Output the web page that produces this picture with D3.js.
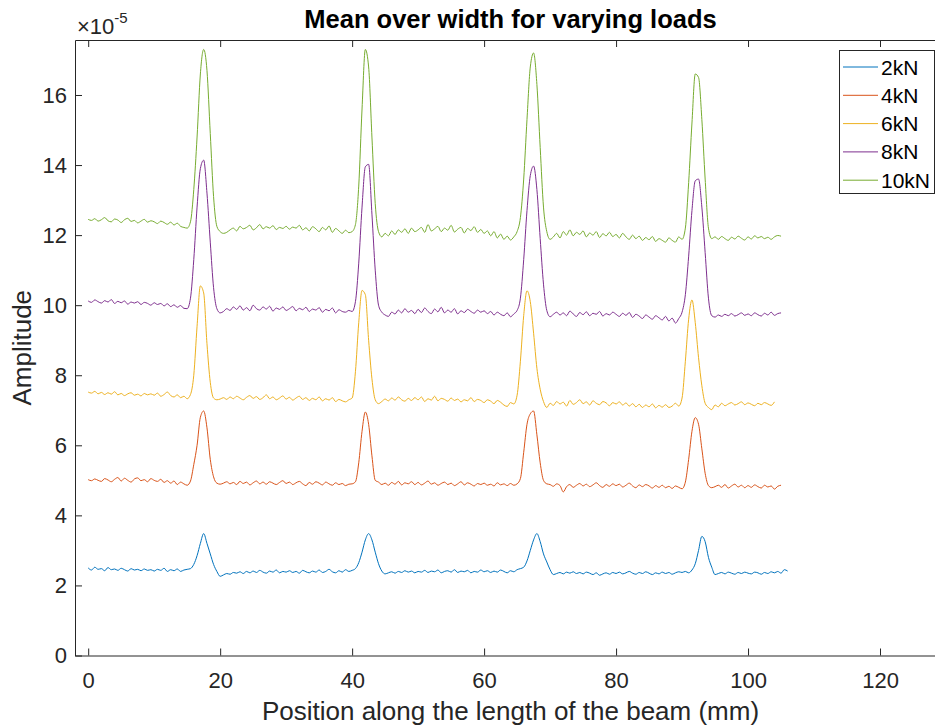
<!DOCTYPE html>
<html>
<head>
<meta charset="utf-8">
<script src="https://cdn.jsdelivr.net/npm/d3@7"></script>
<style>
  body { margin: 0; background: #fff; }
  svg { display: block; font-family: "Liberation Sans", Arial, Helvetica, sans-serif; }
</style>
</head>
<body>
<svg width="935" height="727"></svg>
<script>
// Data (amplitude in units of 1e-5, sampled every 0.5 mm from x = 0)
const xStep = 0.5;
const names = ["2kN", "4kN", "6kN", "8kN", "10kN"];
const colors = ["#0072BD", "#D95319", "#EDB120", "#7E2F8E", "#77AC30"];
const xTicks = [0, 20, 40, 60, 80, 100, 120];
const yTicks = [0, 2, 4, 6, 8, 10, 12, 14, 16];

const load2kN = [
  2.50,2.44,2.52,2.46,2.48,2.42,2.51,2.45,2.47,2.43,2.49,2.45,2.41,2.48,2.44,2.46,2.42,2.47,2.43,2.45,
  2.41,2.46,2.43,2.49,2.40,2.45,2.42,2.47,2.40,2.44,2.46,2.48,2.6,2.85,3.2,3.48,3.2,2.9,2.6,2.4,
  2.26,2.30,2.34,2.32,2.37,2.35,2.39,2.34,2.40,2.36,2.41,2.37,2.43,2.38,2.35,2.41,2.38,2.44,2.36,2.40,
  2.38,2.42,2.37,2.40,2.35,2.43,2.39,2.36,2.41,2.38,2.44,2.37,2.40,2.46,2.39,2.36,2.42,2.38,2.45,2.40,
  2.43,2.48,2.65,2.95,3.3,3.48,3.3,2.95,2.62,2.41,2.33,2.36,2.39,2.35,2.40,2.37,2.42,2.38,2.41,2.36,
  2.40,2.38,2.43,2.37,2.41,2.39,2.44,2.36,2.40,2.42,2.38,2.45,2.37,2.41,2.39,2.43,2.36,2.40,2.38,2.44,
  2.39,2.42,2.37,2.41,2.38,2.44,2.40,2.36,2.42,2.39,2.45,2.48,2.52,2.7,3.0,3.3,3.48,3.25,2.9,2.67,
  2.45,2.31,2.34,2.37,2.33,2.38,2.35,2.39,2.34,2.37,2.33,2.38,2.35,2.31,2.36,2.29,2.33,2.36,2.32,2.37,
  2.34,2.38,2.33,2.36,2.40,2.35,2.32,2.37,2.34,2.39,2.35,2.31,2.36,2.33,2.38,2.34,2.37,2.32,2.36,2.39,
  2.37,2.40,2.36,2.44,2.62,3.0,3.4,3.25,2.8,2.52,2.31,2.34,2.37,2.33,2.38,2.35,2.32,2.37,2.34,2.38,
  2.35,2.33,2.38,2.36,2.32,2.37,2.34,2.39,2.36,2.40,2.35,2.45,2.41
];
const load4kN = [
  5.02,4.99,5.04,5.00,4.97,5.05,5.01,4.96,5.03,5.08,4.98,5.06,5.00,4.95,5.04,5.07,4.99,5.02,4.96,5.05,
  5.00,4.97,5.03,4.94,4.99,4.92,4.98,4.88,4.95,4.90,4.86,4.98,5.45,6.0,6.8,6.98,6.5,5.6,5.1,4.92,
  4.89,4.92,4.96,4.90,4.94,4.88,4.97,4.91,4.95,4.87,4.93,4.98,4.90,4.95,4.89,4.96,4.92,4.88,4.94,4.99,
  4.91,4.95,4.88,4.93,4.97,4.90,4.85,4.94,4.89,4.96,4.92,4.87,4.95,4.90,4.86,4.93,4.88,4.91,4.85,4.89,
  4.90,4.96,5.5,6.4,6.95,6.6,5.7,5.0,4.95,4.88,4.92,4.86,4.94,4.89,4.97,4.87,4.93,4.90,4.96,4.88,
  4.94,4.87,4.92,4.98,4.89,4.93,4.86,4.91,4.95,4.88,4.92,4.85,4.90,4.96,4.87,4.93,4.89,4.84,4.91,4.88,
  4.92,4.86,4.89,4.84,4.93,4.87,4.90,4.85,4.91,4.86,4.90,5.05,5.8,6.6,6.9,6.98,6.3,5.5,5.0,4.9,
  4.88,4.83,4.90,4.85,4.67,4.82,4.88,4.80,4.86,4.91,4.84,4.89,4.82,4.87,4.93,4.85,4.80,4.88,4.83,4.90,
  4.85,4.89,4.81,4.86,4.92,4.84,4.79,4.87,4.82,4.88,4.84,4.78,4.85,4.80,4.86,4.79,4.83,4.77,4.84,4.80,
  4.76,4.95,5.6,6.4,6.79,6.6,5.9,5.2,4.85,4.79,4.82,4.86,4.80,4.88,4.78,4.84,4.89,4.81,4.86,4.79,
  4.85,4.80,4.87,4.82,4.78,4.86,4.81,4.84,4.75,4.83,4.86
];
const load6kN = [
  7.52,7.49,7.54,7.47,7.51,7.45,7.50,7.46,7.53,7.44,7.48,7.42,7.47,7.50,7.43,7.46,7.41,7.48,7.44,7.47,
  7.43,7.49,7.40,7.45,7.52,7.42,7.38,7.44,7.36,7.40,7.33,7.45,8.0,9.4,10.55,10.35,8.9,7.8,7.35,7.30,
  7.32,7.36,7.31,7.38,7.33,7.40,7.35,7.30,7.37,7.42,7.34,7.39,7.31,7.36,7.44,7.33,7.38,7.30,7.35,7.41,
  7.32,7.37,7.29,7.35,7.40,7.31,7.36,7.28,7.34,7.30,7.38,7.27,7.33,7.29,7.36,7.25,7.31,7.27,7.24,7.30,
  7.35,8.1,9.5,10.42,10.3,9.0,7.9,7.3,7.19,7.25,7.32,7.27,7.35,7.29,7.38,7.30,7.26,7.34,7.28,7.36,
  7.30,7.38,7.25,7.33,7.29,7.40,7.27,7.34,7.31,7.26,7.35,7.28,7.32,7.24,7.30,7.27,7.36,7.25,7.31,7.28,
  7.22,7.30,7.26,7.19,7.28,7.23,7.15,7.11,7.22,7.18,7.43,8.4,9.7,10.41,10.1,9.2,8.2,7.6,7.25,7.08,
  7.20,7.14,7.25,7.18,7.23,7.12,7.28,7.17,7.22,7.30,7.19,7.24,7.15,7.27,7.20,7.16,7.25,7.21,7.13,7.22,
  7.18,7.24,7.15,7.21,7.12,7.19,7.10,7.17,7.08,7.15,7.10,7.18,7.07,7.14,7.09,7.16,7.08,7.12,7.20,7.12,
  7.35,8.4,9.6,10.15,9.5,8.5,7.7,7.2,7.08,7.02,7.15,7.10,7.20,7.13,7.18,7.22,7.15,7.19,7.24,7.16,
  7.21,7.17,7.13,7.20,7.16,7.22,7.18,7.14,7.24
];
const load8kN = [
  10.12,10.08,10.15,10.10,10.06,10.13,10.09,10.16,10.05,10.11,10.07,10.12,10.03,10.09,10.06,10.10,10.02,10.08,10.05,10.00,
  10.07,10.02,10.05,9.98,10.04,9.96,10.01,9.94,9.99,9.91,9.90,10.2,11.3,12.8,13.9,14.14,13.2,11.8,10.5,9.9,
  9.78,9.82,9.90,9.85,9.95,9.88,9.98,9.86,9.93,9.84,10.00,9.90,9.86,9.95,9.89,9.97,9.83,9.92,9.88,9.95,
  9.85,9.90,9.96,9.84,9.91,9.87,9.94,9.82,9.89,9.86,9.93,9.80,9.88,9.84,9.92,9.78,9.87,9.82,9.80,9.85,
  9.82,10.1,11.2,12.8,13.95,14.02,12.6,11.0,10.0,9.8,9.72,9.68,9.80,9.75,9.86,9.78,9.90,9.80,9.85,9.76,
  9.88,9.79,9.92,9.82,9.76,9.89,9.81,9.94,9.78,9.86,9.80,9.90,9.75,9.84,9.79,9.88,9.82,9.77,9.86,9.80,
  9.84,9.76,9.82,9.72,9.80,9.74,9.70,9.78,9.67,9.75,9.85,10.2,11.3,12.7,13.7,13.97,13.3,11.9,10.6,9.85,
  9.67,9.74,9.80,9.72,9.78,9.70,9.83,9.75,9.68,9.79,9.73,9.81,9.70,9.77,9.74,9.82,9.69,9.76,9.72,9.80,
  9.74,9.68,9.77,9.71,9.79,9.65,9.74,9.69,9.62,9.72,9.66,9.60,9.70,9.64,9.58,9.68,9.55,9.63,9.49,9.62,
  9.80,10.3,11.4,12.7,13.55,13.6,12.8,11.5,10.2,9.70,9.66,9.72,9.68,9.74,9.70,9.76,9.69,9.73,9.78,9.71,
  9.75,9.70,9.78,9.73,9.69,9.77,9.72,9.80,9.71,9.76,9.78
];
const load10kN = [
  12.45,12.42,12.47,12.40,12.44,12.50,12.41,12.38,12.46,12.43,12.36,12.44,12.48,12.39,12.42,12.35,12.40,12.45,12.37,12.41,
  12.38,12.33,12.40,12.36,12.31,12.37,12.29,12.34,12.25,12.22,12.20,12.38,13.3,14.8,16.6,17.3,16.7,14.9,13.1,12.25,
  12.10,12.05,12.08,12.15,12.20,12.12,12.25,12.18,12.22,12.28,12.15,12.21,12.30,12.18,12.24,12.20,12.27,12.16,12.22,12.19,
  12.25,12.17,12.23,12.20,12.28,12.15,12.21,12.12,12.24,12.18,12.10,12.22,12.15,12.26,12.08,12.19,12.12,12.05,12.14,12.07,
  12.10,12.30,13.4,15.6,17.3,16.8,14.8,12.9,12.1,11.95,12.05,11.98,12.12,12.02,12.15,12.08,12.18,12.05,12.20,12.10,
  12.15,12.22,12.08,12.30,12.12,12.18,12.25,12.10,12.20,12.14,12.28,12.09,12.17,12.22,12.06,12.19,12.13,12.24,12.08,12.16,
  12.05,12.12,11.98,12.10,11.92,12.03,11.88,11.97,11.86,11.95,12.10,12.50,13.6,15.3,16.8,17.2,16.3,14.5,12.8,12.1,
  11.88,11.95,12.05,11.92,12.10,12.00,12.15,11.98,12.08,12.02,12.12,11.95,12.06,12.00,12.10,11.93,12.04,11.98,12.08,11.96,
  12.02,11.92,12.05,11.95,11.88,12.00,11.90,11.97,11.85,11.93,11.87,11.96,11.82,11.90,11.85,11.80,11.92,11.85,11.80,11.95,
  11.88,12.20,13.5,15.2,16.6,16.5,15.3,13.6,12.2,11.90,11.95,11.88,11.96,11.90,11.85,11.94,11.89,11.97,11.91,11.86,
  11.95,11.89,11.98,11.92,11.96,11.90,11.94,11.88,11.95,11.99,11.97
];
const seriesValues = [load2kN, load4kN, load6kN, load8kN, load10kN];

// Layout
const svg = d3.select("svg");
const plot = { left: 75, top: 40, right: 946, bottom: 655.5 };
const axisColor = "#262626";

const x = d3.scaleLinear().domain([-2, 130]).range([plot.left, plot.right]);
const y = d3.scaleLinear().domain([0, 17.57]).range([plot.bottom, plot.top]);

// Lines (monotone curve keeps the peaks rounded like the original trace)
const line = d3.line()
  .x((d, i) => x(i * xStep))
  .y(d => y(d))
  .curve(d3.curveMonotoneX);

svg.append("g")
  .selectAll("path")
  .data(seriesValues)
  .enter().append("path")
  .attr("d", line)
  .attr("fill", "none")
  .attr("stroke", (d, i) => colors[i])
  .attr("stroke-width", 1)
  .attr("stroke-linejoin", "round");

// Axes, ticks point inward like MATLAB
function styleAxis(g) {
  g.attr("font-family", null).attr("font-size", null);
  g.selectAll(".domain").attr("stroke", axisColor);
  g.selectAll(".tick line").attr("stroke", axisColor);
  g.selectAll(".tick text")
    .attr("fill", axisColor)
    .style("font-size", "22px");
}

svg.append("g")
  .attr("transform", `translate(0,${plot.bottom})`)
  .call(d3.axisBottom(x).tickValues(xTicks).tickSize(-7).tickSizeOuter(0).tickPadding(16.5))
  .call(styleAxis);

svg.append("g")
  .attr("transform", `translate(0,${plot.top})`)
  .call(d3.axisTop(x).tickValues(xTicks).tickSize(-7).tickSizeOuter(0).tickFormat(""))
  .call(styleAxis);

svg.append("g")
  .attr("transform", `translate(${plot.left},0)`)
  .call(d3.axisLeft(y).tickValues(yTicks).tickSize(-7).tickSizeOuter(0).tickPadding(8))
  .call(styleAxis);

svg.append("g")
  .attr("transform", `translate(${plot.right},0)`)
  .call(d3.axisRight(y).tickValues(yTicks).tickSize(-7).tickSizeOuter(0).tickFormat(""))
  .call(styleAxis);

// Exponent label
const expo = svg.append("text")
  .attr("x", plot.left + 2)
  .attr("y", 34)
  .attr("fill", axisColor)
  .style("font-size", "22px");
expo.append("tspan").text("×10");
expo.append("tspan").attr("dy", -11).style("font-size", "15px").text("-5");

// Title and axis labels
svg.append("text")
  .attr("x", (plot.left + plot.right) / 2)
  .attr("y", 28)
  .attr("text-anchor", "middle")
  .attr("font-weight", "bold")
  .style("font-size", "25.5px")
  .attr("fill", "#000")
  .text("Mean over width for varying loads");

svg.append("text")
  .attr("x", (plot.left + plot.right) / 2)
  .attr("y", 720)
  .attr("text-anchor", "middle")
  .style("font-size", "26px")
  .attr("fill", axisColor)
  .text("Position along the length of the beam (mm)");

svg.append("text")
  .attr("transform", `translate(31,${(plot.top + plot.bottom) / 2}) rotate(-90)`)
  .attr("text-anchor", "middle")
  .style("font-size", "26px")
  .attr("fill", axisColor)
  .text("Amplitude");

// Legend
const legend = svg.append("g").attr("transform", "translate(839,50)");
legend.append("rect")
  .attr("x", 0.5).attr("y", 0.5)
  .attr("width", 95).attr("height", 143)
  .attr("fill", "#fff")
  .attr("stroke", axisColor)
  .attr("stroke-width", 1);

const item = legend.selectAll(".item")
  .data(names)
  .enter().append("g")
  .attr("class", "item")
  .attr("transform", (d, i) => `translate(0,${17 + i * 28.3})`);

item.append("line")
  .attr("x1", 4).attr("x2", 39)
  .attr("stroke", (d, i) => colors[i])
  .attr("stroke-width", 1);

item.append("text")
  .attr("x", 42)
  .attr("y", 7.5)
  .style("font-size", "21px")
  .attr("fill", "#000")
  .text(d => d);
</script>
</body>
</html>
